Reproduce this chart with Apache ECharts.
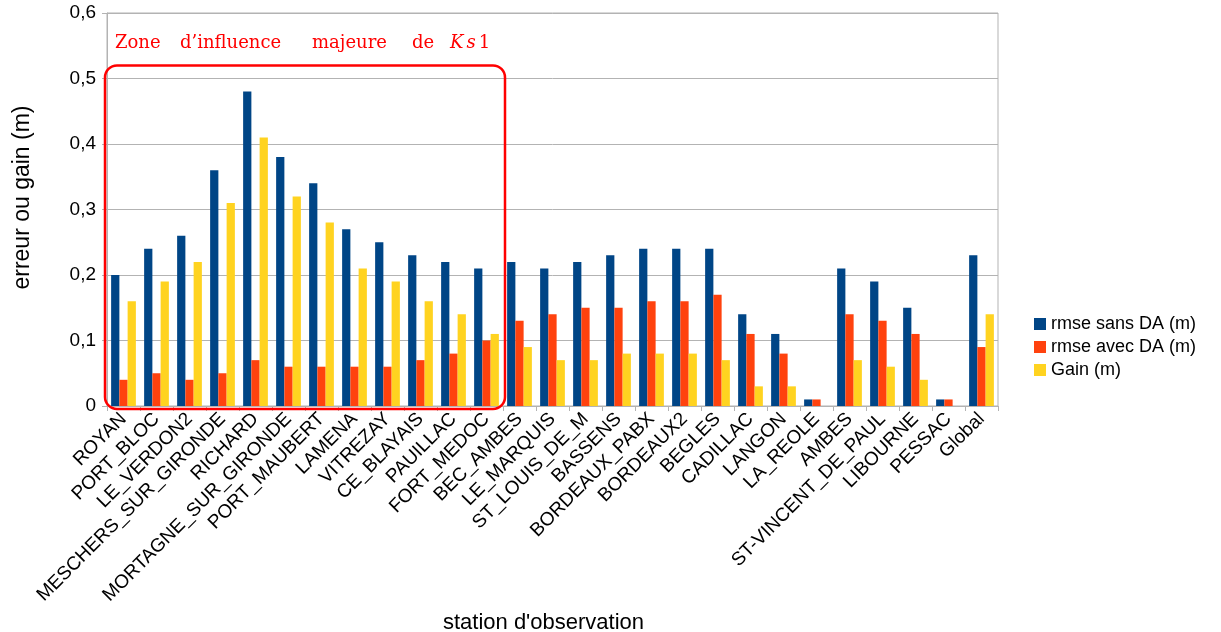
<!DOCTYPE html>
<html>
<head>
<meta charset="utf-8">
<script src="https://cdn.jsdelivr.net/npm/echarts@6/dist/echarts.min.js"></script>
<style>
html,body{margin:0;padding:0;background:#fff;}
#chart{width:1221px;height:632px;}
</style>
</head>
<body>
<div id="chart"></div>
<script>
const categories = ['ROYAN','PORT_BLOC','LE_VERDON2','MESCHERS_SUR_GIRONDE','RICHARD','MORTAGNE_SUR_GIRONDE','PORT_MAUBERT','LAMENA','VITREZAY','CE_BLAYAIS','PAUILLAC','FORT_MEDOC','BEC_AMBES','LE_MARQUIS','ST_LOUIS_DE_M','BASSENS','BORDEAUX_PABX','BORDEAUX2','BEGLES','CADILLAC','LANGON','LA_REOLE','AMBES','ST-VINCENT_DE_PAUL','LIBOURNE','PESSAC','Global'];
const rmseSansDA = [0.20,0.24,0.26,0.36,0.48,0.38,0.34,0.27,0.25,0.23,0.22,0.21,0.22,0.21,0.22,0.23,0.24,0.24,0.24,0.14,0.11,0.01,0.21,0.19,0.15,0.01,0.23];
const rmseAvecDA = [0.04,0.05,0.04,0.05,0.07,0.06,0.06,0.06,0.06,0.07,0.08,0.10,0.13,0.14,0.15,0.15,0.16,0.16,0.17,0.11,0.08,0.01,0.14,0.13,0.11,0.01,0.09];
const gain = [0.16,0.19,0.22,0.31,0.41,0.32,0.28,0.21,0.19,0.16,0.14,0.11,0.09,0.07,0.07,0.08,0.08,0.08,0.07,0.03,0.03,0,0.07,0.06,0.04,0,0.14];
const seriesNames = ['rmse sans DA (m)','rmse avec DA (m)','Gain (m)'];
const colors = ['#004586','#ff420e','#ffd320'];
const zoneFirst = 'ROYAN', zoneLast = 'FORT_MEDOC', zoneTop = 0.52;

const chart = echarts.init(document.getElementById('chart'));
const font = 'Liberation Sans, Arial, sans-serif';
const option = {
  animation: false,
  color: colors,
  grid: {left: 107, right: 223, top: 13, bottom: 226, containLabel: false, outerBoundsMode: 'none',
    show: true, borderColor: '#b3b3b3', borderWidth: 1, backgroundColor: 'transparent'},
  legend: {
    orient: 'vertical', left: 1029, top: 310,
    icon: 'rect', itemWidth: 12, itemHeight: 12, itemGap: 5,
    textStyle: {fontFamily: font, fontSize: 18, color: '#000'},
    data: seriesNames
  },
  xAxis: {
    type: 'category', data: categories,
    name: "station d'observation", nameLocation: 'middle', nameGap: 196,
    nameTextStyle: {fontFamily: font, fontSize: 22, color: '#000', padding: [0, 18, 0, 0]},
    axisLine: {lineStyle: {color: '#b3b3b3'}},
    axisTick: {show: true, interval: 0, length: 5, lineStyle: {color: '#b3b3b3'}},
    axisLabel: {interval: 0, rotate: 45, margin: 10, fontFamily: font, fontSize: 19, color: '#000'}
  },
  yAxis: {
    type: 'value', min: 0, max: 0.6, interval: 0.1,
    name: 'erreur ou gain (m)', nameLocation: 'middle', nameGap: 73,
    nameTextStyle: {fontFamily: font, fontSize: 23, color: '#000', padding: [0, 0, 0, 24]},
    axisLine: {show: true, lineStyle: {color: '#b3b3b3'}},
    axisTick: {show: true, length: 5, lineStyle: {color: '#b3b3b3'}},
    splitLine: {lineStyle: {color: '#b3b3b3'}},
    axisLabel: {margin: 11, fontFamily: font, fontSize: 19, color: '#000',
      formatter: v => (Math.round(v*10)/10).toString().replace('.', ',')}
  },
  series: [
    {name: seriesNames[0], type: 'bar', data: rmseSansDA, barGap: '0%', barCategoryGap: '25%'},
    {name: seriesNames[1], type: 'bar', data: rmseAvecDA, barGap: '0%', barCategoryGap: '25%'},
    {name: seriesNames[2], type: 'bar', data: gain, barGap: '0%', barCategoryGap: '25%'}
  ]
};
chart.setOption(option);

// annotation box around the zone of influence
const c0 = chart.convertToPixel({xAxisIndex: 0}, categories[0]);
const c1 = chart.convertToPixel({xAxisIndex: 0}, categories[1]);
const band = c1 - c0;
const xa = chart.convertToPixel({xAxisIndex: 0}, zoneFirst) - band/2 - 2;
const xb = chart.convertToPixel({xAxisIndex: 0}, zoneLast) + band/2 + 2;
const yTop = chart.convertToPixel({yAxisIndex: 0}, zoneTop);
const yBot = chart.convertToPixel({yAxisIndex: 0}, 0) + 3;
const serif = 'DejaVu Serif, Liberation Serif, serif';
const words = [
  {t: 'Zone', dx: 10},
  {t: 'd\u2019influence', dx: 75},
  {t: 'majeure', dx: 207},
  {t: 'de', dx: 307}
];
const txtY = yTop - 22;
const graphics = [{
  type: 'rect', z: 100,
  shape: {x: xa, y: yTop, width: xb - xa, height: yBot - yTop, r: 12},
  style: {fill: 'none', stroke: '#ff0000', lineWidth: 2.5}
}];
words.forEach(w => graphics.push({
  type: 'text', z: 100, x: xa + w.dx, y: txtY,
  style: {text: w.t, fill: '#ff0000', font: '18px ' + serif, verticalAlign: 'middle'}
}));
graphics.push({
  type: 'text', z: 100, x: xa + 345, y: txtY,
  style: {
    text: '{i|K}{i|s}{n|1}', verticalAlign: 'middle',
    rich: {
      i: {fill: '#ff0000', fontFamily: serif, fontSize: 18, fontStyle: 'italic', padding: [0, 3, 0, 0]},
      n: {fill: '#ff0000', fontFamily: serif, fontSize: 18}
    }
  }
});
chart.setOption({graphic: graphics});
</script>
</body>
</html>
